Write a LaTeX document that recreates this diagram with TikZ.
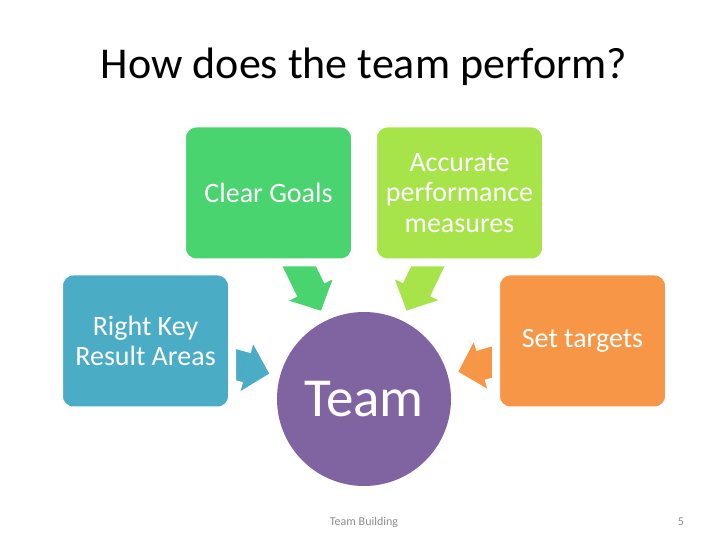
\documentclass[tikz,border=0pt]{standalone}
\usepackage{fontspec}
\setmainfont{Carlito}
\usetikzlibrary{positioning, arrows.meta, calc, backgrounds}
\definecolor{tbgreen}{HTML}{4AD46F}
\definecolor{tblime}{HTML}{A6E44A}
\definecolor{tbblue}{HTML}{4BACC6}
\definecolor{tborange}{HTML}{F79646}
\definecolor{tbpurple}{HTML}{8064A2}
\definecolor{tbgray}{HTML}{8C8C8C}

\begin{document}
\begin{tikzpicture}[x=1pt, y=1pt,
    box/.style={draw=white, line width=8pt, rounded corners=14pt, text=white, minimum width=173pt, minimum height=139pt, align=center, font=\fontsize{28}{30.5}\selectfont},
    arr/.style={line width=30pt, -{Triangle[width=48pt, length=23pt, line width=1pt]}, shorten >=11pt}]
  \useasboundingbox (0,0) rectangle (728,546);
  \node[anchor=base, font=\fontsize{44}{50}\selectfont] (title) at (364,467) {How does the team perform?};
  \node[circle, fill=tbpurple, minimum size=174pt, inner sep=0pt, text=white, font=\fontsize{55}{60}\selectfont] (team) at (364,147) {Team};
  \node[box, fill=tbgreen] (goals) at (268.5,353) {Clear Goals};
  \node[box, fill=tblime] (measures) at (459.5,353) {Accurate\\performance\\measures};
  \node[box, fill=tbblue] (areas) at (145.5,205) {Right Key\\Result Areas};
  \node[box, fill=tborange] (targets) at (582.5,205) {Set targets};
  % arrows sit behind the boxes
  \begin{scope}[on background layer]
    \draw[arr, tbgreen] ($(goals.south)+(24,14)$) -- (team);
    \draw[arr, tblime] ($(measures.south)+(-25,14)$) -- (team);
    \draw[arr, tbblue] ($(areas.east)+(-14,-20)$) -- (team);
    \draw[arr, tborange] ($(targets.west)+(14,-17)$) -- (team);
  \end{scope}
  \node[text=tbgray, font=\fontsize{12}{14}\selectfont] (footer) at (364,24) {Team Building};
  \node[text=tbgray, font=\fontsize{12}{14}\selectfont] (page) at (681,24) {5};
\end{tikzpicture}
\end{document}
